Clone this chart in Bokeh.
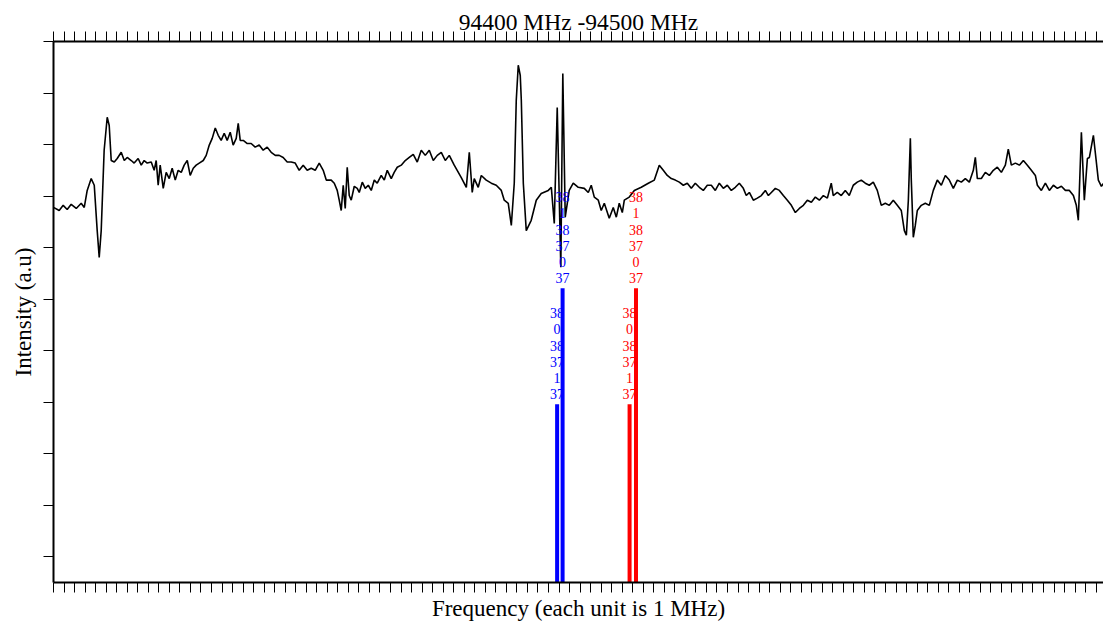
from bokeh.plotting import figure
from bokeh.models import (Range1d, LinearAxis, SingleIntervalTicker, FixedTicker,
                          ColumnDataSource, CustomLabelingPolicy)
from bokeh.core.properties import value
from bokeh.embed import file_html
from bokeh.resources import INLINE

title_text = "94400 MHz -94500 MHz"
x_label = "Frequency (each unit is 1 MHz)"
y_label = "Intensity (a.u)"

# observed spectrum: frequency offset from 94400 MHz (MHz) and intensity (a.u.)
freq_offset = [
    0.00, 0.54, 0.92, 1.30, 1.68, 2.16, 2.63, 2.92, 3.20, 3.58, 3.87, 4.15, 4.34, 4.53, 4.81,
    5.10, 5.29, 5.48, 5.77, 6.05, 6.43, 6.72, 7.00, 7.38, 7.66, 8.04, 8.33, 8.61, 8.90, 9.28,
    9.56, 9.75, 9.94, 10.13, 10.42, 10.70, 10.99, 11.27, 11.56, 11.84, 12.13, 12.41, 12.70,
    12.98, 13.27, 13.55, 13.84, 14.22, 14.50, 14.79, 15.07, 15.36, 15.64, 15.92, 16.21, 16.49,
    16.78, 17.06, 17.35, 17.54, 17.73, 18.02, 18.40, 18.77, 19.15, 19.53, 19.91, 20.29, 20.67,
    21.06, 21.43, 21.81, 22.19, 22.57, 22.95, 23.33, 23.71, 24.09, 24.47, 24.85, 25.23, 25.61,
    25.90, 26.37, 26.66, 26.94, 27.13, 27.32, 27.51, 27.70, 27.89, 28.08, 28.27, 28.56, 28.84,
    29.03, 29.32, 29.60, 29.89, 30.17, 30.46, 30.74, 31.12, 31.41, 31.69, 32.07, 32.35, 32.64,
    33.02, 33.40, 33.78, 34.16, 34.54, 34.92, 35.30, 35.68, 36.06, 36.44, 36.82, 37.20, 37.58,
    38.05, 38.72, 39.20, 39.48, 39.76, 39.95, 40.33, 40.62, 41.09, 41.57, 42.04, 42.52, 42.80,
    43.18, 43.47, 43.75, 43.94, 44.13, 44.32, 44.42, 44.61, 44.89, 45.36, 45.84, 46.31, 46.98,
    47.27, 47.55, 47.83, 48.17, 48.36, 48.59, 48.97, 49.35, 49.83, 50.40, 50.78, 51.06, 51.35,
    51.73, 52.01, 52.30, 52.77, 53.15, 53.44, 53.72, 54.01, 54.20, 54.67, 55.15, 55.81, 56.48,
    57.05, 57.52, 57.90, 58.28, 58.66, 59.04, 59.42, 59.80, 60.18, 60.56, 60.94, 61.32, 61.70,
    62.08, 62.46, 62.84, 63.22, 63.60, 63.98, 64.36, 64.74, 65.12, 65.50, 65.78, 66.07, 66.45,
    66.83, 67.21, 67.59, 67.88, 68.16, 68.54, 68.92, 69.30, 69.68, 70.06, 70.44, 70.82, 71.20,
    71.58, 71.96, 72.34, 72.72, 73.10, 73.48, 73.85, 74.04, 74.42, 74.80, 75.18, 75.56, 75.94,
    76.32, 76.70, 77.08, 77.46, 77.84, 78.22, 78.60, 78.98, 79.36, 79.74, 80.12, 80.50, 80.79,
    80.98, 81.17, 81.36, 81.45, 81.64, 81.83, 82.02, 82.40, 82.78, 83.16, 83.54, 83.92, 84.30,
    84.68, 85.06, 85.44, 85.82, 86.20, 86.58, 86.96, 87.34, 87.53, 87.72, 88.10, 88.48, 88.86,
    89.24, 89.62, 90.00, 90.38, 90.66, 90.95, 91.33, 91.71, 92.09, 92.47, 92.85, 93.23, 93.42,
    93.80, 94.18, 94.56, 94.94, 95.32, 95.70, 96.08, 96.46, 96.84, 97.12, 97.31, 97.60, 97.88,
    98.17, 98.36, 98.74, 99.21, 99.50, 99.78,
]
intensity = [
    7.28, 7.22, 7.32, 7.24, 7.34, 7.26, 7.36, 7.28, 7.61, 7.84, 7.71, 6.83, 6.31, 6.83, 8.39,
    9.03, 8.87, 8.19, 8.16, 8.23, 8.35, 8.19, 8.25, 8.19, 8.14, 8.23, 8.10, 8.19, 8.14, 8.16,
    8.00, 8.19, 7.71, 8.10, 7.65, 7.96, 7.84, 8.04, 7.81, 8.00, 7.96, 8.10, 8.19,
    7.90, 8.04, 8.10, 8.14, 8.19, 8.29, 8.49, 8.62, 8.82, 8.68, 8.58, 8.72, 8.58,
    8.74, 8.49, 8.62, 8.91, 8.58, 8.58, 8.52, 8.52, 8.45, 8.49, 8.39, 8.45, 8.35,
    8.29, 8.29, 8.25, 8.16, 8.16, 8.14, 8.00, 8.10, 8.00, 8.04, 8.00, 8.14, 8.00,
    7.81, 7.81, 7.75, 7.61, 7.42, 7.22, 7.71, 7.26, 8.06, 7.51, 7.42, 7.69, 7.65,
    7.57, 7.77, 7.65, 7.71, 7.61, 7.81, 7.75, 7.90, 7.81, 8.00, 7.84, 7.96, 8.06,
    8.10, 8.19, 8.25, 8.31, 8.16, 8.39, 8.29, 8.39, 8.19, 8.29, 8.35, 8.19, 8.29,
    8.10, 7.86, 7.67, 8.35, 7.57, 7.84, 7.67, 7.90, 7.81, 7.75, 7.71, 7.61, 7.42,
    7.36, 6.93, 7.75, 9.36, 10.04, 9.84, 9.36, 7.75, 6.83, 7.03, 7.42, 7.55, 7.61,
    7.67, 6.97, 9.22, 6.12, 9.88, 7.09, 7.61, 7.75, 7.67, 7.65, 7.57, 7.71, 7.48,
    7.42, 7.22, 7.36, 7.07, 7.28, 7.09, 7.36, 7.18, 7.42, 7.48, 7.61, 7.67, 7.75,
    7.81, 8.10, 8.00, 7.90, 7.84, 7.81, 7.77, 7.71, 7.75, 7.65, 7.75, 7.67, 7.61,
    7.71, 7.71, 7.61, 7.75, 7.65, 7.71, 7.61, 7.67, 7.75, 7.65, 7.51, 7.57, 7.42,
    7.46, 7.51, 7.61, 7.51, 7.57, 7.65, 7.61, 7.51, 7.42, 7.32, 7.18, 7.26, 7.32,
    7.42, 7.38, 7.48, 7.42, 7.51, 7.46, 7.75, 7.51, 7.57, 7.51, 7.61, 7.51, 7.71,
    7.77, 7.81, 7.75, 7.71, 7.77, 7.61, 7.32, 7.36, 7.32, 7.42, 7.32, 7.22, 6.83,
    6.74, 7.42, 8.62, 7.81, 6.70, 6.93, 7.22, 7.32, 7.36, 7.32, 7.61, 7.81, 7.71,
    7.90, 7.81, 7.65, 7.81, 7.77, 7.84, 7.77, 8.00, 8.25, 7.84, 7.84, 7.96, 7.90,
    8.00, 8.06, 7.96, 8.10, 8.41, 8.10, 8.14, 8.10, 8.19, 8.10, 8.00, 7.90, 7.71,
    7.61, 7.75, 7.61, 7.71, 7.65, 7.69, 7.61, 7.61, 7.51, 7.32, 7.03, 8.74, 7.42,
    8.23, 8.25, 8.68, 7.81, 7.69, 7.77,
]

# predicted transitions (stick spectrum)
stick_freq = [47.82, 48.34, 54.70, 55.31]
stick_height = [3.46, 5.71, 3.46, 5.71]
stick_group = ["A", "A", "B", "B"]
stick_labels = [
    ["38", "0", "38", "37", "1", "37"],
    ["38", "1", "38", "37", "0", "37"],
    ["38", "0", "38", "37", "1", "37"],
    ["38", "1", "38", "37", "0", "37"],
]

y_ticks = [0.5, 1.5, 2.5, 3.5, 4.5, 5.5, 6.5, 7.5, 8.5, 9.5, 10.5]

group_color = {"A": "#0000ff", "B": "#ff0000"}
SERIF = "Liberation Serif"

p = figure(width=1103, height=624, x_range=Range1d(0, 99.7), y_range=Range1d(0, 10.5),
           output_backend="svg", toolbar_location=None,
           min_border_left=53, min_border_right=0, min_border_top=41, min_border_bottom=42)
p.outline_line_color = None
p.grid.visible = False
p.background_fill_color = "white"
p.border_fill_color = "white"

top_axis = LinearAxis(ticker=SingleIntervalTicker(interval=1, num_minor_ticks=0))
p.add_layout(top_axis, "above")

p.xaxis.ticker = SingleIntervalTicker(interval=1, num_minor_ticks=0)
p.yaxis.ticker = FixedTicker(ticks=y_ticks)

no_labels = CustomLabelingPolicy(
    code="try { return new indices.constructor(indices.size, 0) } catch (e) { return indices }")

for ax in list(p.xaxis) + list(p.yaxis):
    ax.major_label_policy = no_labels
    ax.major_label_text_font_size = "0px"
    ax.major_label_standoff = 0
    ax.minor_tick_line_color = None
    ax.major_tick_out = 10
    ax.major_tick_in = 0
    ax.major_tick_line_width = 1
    ax.major_tick_line_color = "black"
    ax.axis_line_width = 2
    ax.axis_line_color = "black"
    ax.axis_label_text_font = SERIF
    ax.axis_label_text_font_size = "23px"
    ax.axis_label_text_font_style = "normal"
    ax.axis_label_text_color = "black"
    ax.axis_label_standoff = 0

p.below[0].axis_label = x_label
p.below[0].axis_label_standoff = 3
top_axis.axis_label = title_text
top_axis.axis_label_text_font_size = "23.5px"
top_axis.axis_label_standoff = -3
p.yaxis[0].axis_label = y_label
p.yaxis[0].axis_label_standoff = 8

p.line(freq_offset, intensity, line_color="black", line_width=1.6)

seg = ColumnDataSource(dict(
    x=stick_freq, y0=[0] * len(stick_freq), y1=stick_height,
    color=[group_color[g] for g in stick_group]))
p.segment(x0="x", y0="y0", x1="x", y1="y1", source=seg, line_color="color", line_width=4)

lx, ly, lt, lo, lc = [], [], [], [], []
for f, h, g, labs in zip(stick_freq, stick_height, stick_group, stick_labels):
    for k, t in enumerate(reversed(labs)):
        lx.append(f)
        ly.append(h)
        lt.append(t)
        lo.append(-10 - 16.2 * k)
        lc.append(group_color[g])
p.text(x="x", y="y", text="t", y_offset="o", text_color="c",
       source=ColumnDataSource(dict(x=lx, y=ly, t=lt, o=lo, c=lc)),
       text_align="center", text_baseline="alphabetic",
       text_font=value(SERIF), text_font_size="14px")

open("out.html", "w").write(file_html(p, INLINE))
